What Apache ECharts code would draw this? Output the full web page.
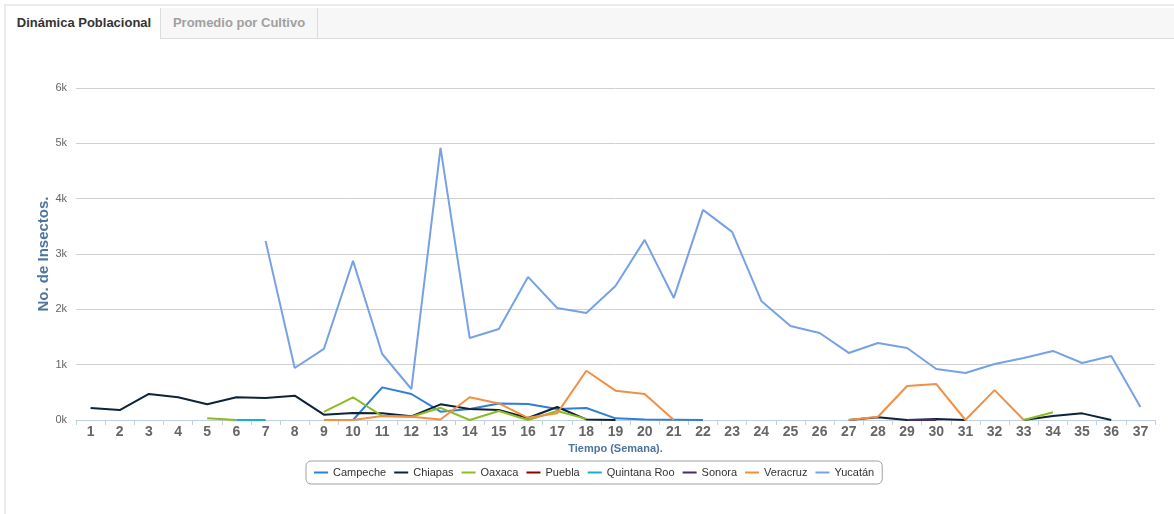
<!DOCTYPE html>
<html>
<head>
<meta charset="utf-8">
<script src="https://cdn.jsdelivr.net/npm/echarts@6/dist/echarts.min.js"></script>
<style>
  html, body { margin: 0; padding: 0; background: #fff; }
  body { width: 1174px; height: 514px; position: relative; overflow: hidden; font-family: "Liberation Sans", Arial, sans-serif; }
  #frame { position: absolute; left: 4px; top: 4px; width: 1180px; height: 520px; border: 2px solid #ebebeb; box-sizing: border-box; }
  #tabs { position: absolute; left: 8px; top: 8px; width: 1170px; height: 30px; background: #f7f7f7; border-bottom: 1px solid #dcdcdc; }
  .tab { position: absolute; top: 0; height: 30px; line-height: 29px; font-size: 13px; font-weight: bold; text-align: center; box-sizing: border-box; }
  #t1 { left: 0; width: 153px; background: #fff; color: #333; border-right: 1px solid #dcdcdc; height: 31px; }
  #t2 { left: 153px; width: 157px; color: #a0a0a0; border-right: 1px solid #dcdcdc; }
  #chart { position: absolute; left: 0; top: 0; width: 1174px; height: 514px; }
</style>
</head>
<body>
<div id="frame"></div>
<div id="tabs">
  <div class="tab" id="t1">Dinámica Poblacional</div>
  <div class="tab" id="t2">Promedio por Cultivo</div>
</div>
<div id="chart"></div>
<script>
// semanas 1..37
var semanas = [];
for (var s = 1; s <= 37; s++) { semanas.push(String(s)); }

var yTicks = ['0k', '1k', '2k', '3k', '4k', '5k', '6k'];

var campeche = [null, null, null, null, null, null, null, null, null, 0, 590, 470, 150, 200, 300, 290, 200, 217, 30, 10, 5, 0,
  null, null, null, null, null, null, null, null, null, null, null, null, null, null, null];
var chiapas = [217, 180, 470, 410, 283, 410, 398, 440, 96, 126, 120, 66, 283, 200, 180, 36, 235, 10, 0, null, null, null,
  null, null, null, null, 0, 50, 0, 20, 0, null, 0, 72, 120, 0, null];
var oaxaca = [null, null, null, null, 30, 0, null, null, 145, 410, 72, 60, 220, 0, 163, 0, 163, 20, null, null, null, null,
  null, null, null, null, null, null, null, null, null, null, 0, 140, null, null, null];
var puebla = [null, null, null, null, null, null, null, null, null, null, null, null, null, null, null, null, null, null, null, null, null, null,
  null, null, null, null, null, null, null, null, null, null, null, null, null, null, null];
var quintanaRoo = [null, null, null, null, null, 0, 0, null, null, null, null, null, null, null, null, null, null, null, null, null, null, null,
  null, null, null, null, null, null, null, null, null, null, null, null, null, null, null];
var sonora = [null, null, null, null, null, null, null, null, null, null, null, null, null, null, null, null, null, null, null, null, null, null,
  null, null, null, null, null, null, 0, 0, null, null, null, null, null, null, null];
var veracruz = [null, null, null, null, null, null, null, null, 0, 0, 72, 60, 10, 410, 300, 40, 120, 890, 530, 470, 0, null,
  null, null, null, null, 0, 58, 615, 650, 0, 540, 0, null, null, null, null];
var yucatan = [null, null, null, null, null, null, 3237, 940, 1284, 2875, 1193, 560, 4918, 1483, 1645, 2586, 2025, 1935, 2423, 3255, 2206, 3797,
  3400, 2152, 1700, 1573, 1212, 1392, 1302, 922, 850, 1013, 1121, 1248, 1031, 1157, 235];

var nombres = ['Campeche', 'Chiapas', 'Oaxaca', 'Puebla', 'Quintana Roo', 'Sonora', 'Veracruz', 'Yucatán'];
var datos = [campeche, chiapas, oaxaca, puebla, quintanaRoo, sonora, veracruz, yucatan];
var colores = ['#2f7ed8', '#0d233a', '#8bbc21', '#910000', '#1aadce', '#492970', '#f28f43', '#77a1e5'];

var series = [];
for (var i = 0; i < nombres.length; i++) {
  series.push({
    name: nombres[i],
    type: 'line',
    data: datos[i],
    showSymbol: false,
    symbol: 'none',
    connectNulls: false,
    lineStyle: { width: 2, color: colores[i] },
    itemStyle: { color: colores[i] },
    animation: false
  });
}

var chart = echarts.init(document.getElementById('chart'));
chart.setOption({
  animation: false,
  color: colores,
  grid: { left: 76, right: 19, top: 88, bottom: 94 },
  legend: {
    data: nombres,
    left: 306,
    top: 461,
    padding: [6, 8, 6, 8],
    borderColor: '#a0a0a0',
    borderWidth: 1,
    borderRadius: 5,
    icon: 'rect',
    itemWidth: 14,
    itemHeight: 2,
    itemGap: 8,
    textStyle: { fontSize: 11, color: '#333', fontFamily: 'Liberation Sans' }
  },
  xAxis: {
    type: 'category',
    data: semanas,
    boundaryGap: true,
    name: 'Tiempo (Semana).',
    nameLocation: 'middle',
    nameGap: 22,
    nameTextStyle: { color: '#4d759e', fontSize: 11, fontWeight: 'bold', fontFamily: 'Liberation Sans' },
    axisLine: { lineStyle: { color: '#c0d0e0', width: 1 } },
    axisTick: { show: true, alignWithLabel: false, length: 5, lineStyle: { color: '#c0d0e0' } },
    axisLabel: { color: '#666', fontSize: 14, fontWeight: 'bold', margin: 5, interval: 0, fontFamily: 'Liberation Sans' },
    splitLine: { show: false }
  },
  yAxis: {
    type: 'value',
    min: 0,
    max: 6000,
    interval: 1000,
    name: 'No. de Insectos.',
    nameLocation: 'middle',
    nameGap: 25,
    nameMoveOverlap: false,
    nameTextStyle: { color: '#4d759e', fontSize: 15, fontWeight: 'bold', fontFamily: 'Liberation Sans' },
    axisLine: { show: false },
    axisTick: { show: false },
    axisLabel: {
      color: '#666',
      fontSize: 11,
      margin: 9,
      fontFamily: 'Liberation Sans',
      formatter: function (v) { return yTicks[Math.round(v / 1000)]; }
    },
    splitLine: { lineStyle: { color: '#d0d0d0', width: 1 } }
  },
  series: series
});
</script>
</body>
</html>
